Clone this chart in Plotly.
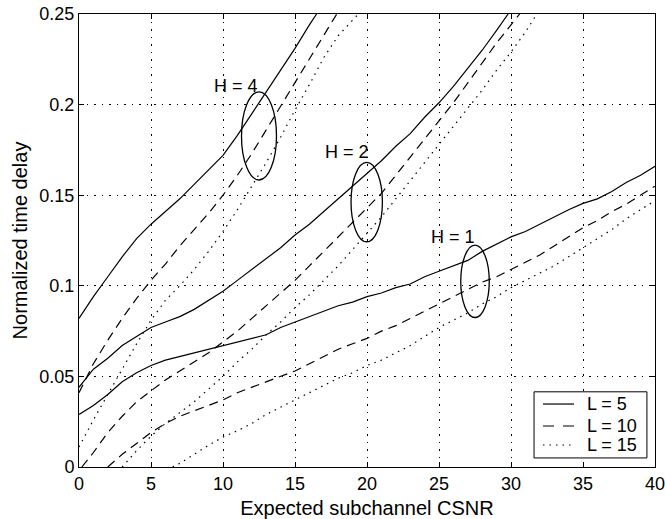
import plotly.graph_objects as go

# ---------------- data ----------------
# H = 4
h4_l5_x = [0, 1, 2, 3, 4, 5, 6, 7, 8, 9, 10, 11, 12, 13, 14, 15, 16, 16.5]
h4_l5_y = [0.082, 0.094, 0.105, 0.116, 0.126, 0.134, 0.141, 0.148, 0.156, 0.164, 0.172,
           0.183, 0.195, 0.207, 0.219, 0.231, 0.244, 0.250]
h4_l10_x = [0, 1, 2, 3, 4, 5, 6, 7, 8, 9, 10, 11, 12, 13, 14, 15, 16, 17, 17.9]
h4_l10_y = [0.041, 0.057, 0.070, 0.082, 0.093, 0.103, 0.112, 0.122, 0.131, 0.140, 0.150,
            0.161, 0.173, 0.186, 0.199, 0.212, 0.225, 0.238, 0.250]
h4_l15_x = [0, 1, 2, 3, 4, 5, 6, 7, 8, 9, 10, 11, 12, 13, 14, 15, 16, 17, 18, 19, 19.4]
h4_l15_y = [0.011, 0.026, 0.040, 0.054, 0.068, 0.081, 0.092, 0.100, 0.109, 0.119, 0.130,
            0.142, 0.155, 0.168, 0.182, 0.197, 0.211, 0.226, 0.238, 0.247, 0.250]

# H = 2
h2_l5_x = [0, 1, 2, 3, 4, 5, 6, 7, 8, 9, 10, 11, 12, 13, 14, 15, 16, 17, 18, 19, 20,
           21, 22, 23, 24, 25, 26, 27, 28, 29, 29.8]
h2_l5_y = [0.044, 0.054, 0.060, 0.067, 0.072, 0.077, 0.080, 0.083, 0.087, 0.092, 0.097,
           0.103, 0.109, 0.115, 0.121, 0.128, 0.134, 0.141, 0.148, 0.155, 0.162,
           0.169, 0.177, 0.184, 0.193, 0.201, 0.210, 0.220, 0.230, 0.241, 0.250]
h2_l10_x = [0.2, 1, 2, 3, 4, 5, 6, 7, 8, 9, 10, 11, 12, 13, 14, 15, 16, 17, 18, 19, 20,
            21, 22, 23, 24, 25, 26, 27, 28, 29, 30, 30.6]
h2_l10_y = [0.000, 0.008, 0.019, 0.028, 0.036, 0.042, 0.048, 0.053, 0.058, 0.063, 0.069,
            0.075, 0.082, 0.089, 0.096, 0.103, 0.111, 0.119, 0.127, 0.135, 0.143,
            0.151, 0.161, 0.171, 0.181, 0.191, 0.201, 0.212, 0.223, 0.234, 0.244, 0.250]
h2_l15_x = [3, 4, 5, 6, 7, 8, 9, 10, 11, 12, 13, 14, 15, 16, 17, 18, 19, 20,
            21, 22, 23, 24, 25, 26, 27, 28, 29, 30, 31, 31.8]
h2_l15_y = [0.000, 0.009, 0.017, 0.024, 0.030, 0.036, 0.043, 0.050, 0.058, 0.065, 0.073,
            0.080, 0.088, 0.095, 0.103, 0.111, 0.120, 0.129, 0.138, 0.148, 0.158,
            0.168, 0.178, 0.188, 0.198, 0.208, 0.219, 0.229, 0.240, 0.250]

# H = 1
h1_l5_x = list(range(0, 41))
h1_l5_y = [0.029, 0.034, 0.040, 0.047, 0.052, 0.056, 0.059, 0.061, 0.063, 0.065, 0.067,
           0.069, 0.071, 0.073, 0.077, 0.080, 0.083, 0.086, 0.089, 0.091, 0.094,
           0.096, 0.099, 0.101, 0.105, 0.108, 0.111, 0.114, 0.119, 0.123, 0.127,
           0.130, 0.134, 0.138, 0.142, 0.1455, 0.148, 0.152, 0.157, 0.161, 0.166]
h1_l10_x = [2] + list(range(3, 41))
h1_l10_y = [0.000, 0.007, 0.013, 0.019, 0.024, 0.028, 0.031, 0.034, 0.037,
            0.041, 0.044, 0.047, 0.050, 0.053, 0.057, 0.061, 0.065, 0.068, 0.071,
            0.075, 0.078, 0.082, 0.086, 0.090, 0.094, 0.098, 0.102, 0.105, 0.109,
            0.113, 0.117, 0.122, 0.127, 0.132, 0.136, 0.141, 0.145, 0.150, 0.155]
h1_l15_x = [6.5] + list(range(7, 41))
h1_l15_y = [0.000, 0.002, 0.007, 0.012, 0.0165, 0.020, 0.024, 0.029, 0.033, 0.037,
            0.041, 0.045, 0.049, 0.052, 0.056, 0.059, 0.063, 0.067, 0.072, 0.077,
            0.081, 0.085, 0.090, 0.094, 0.099, 0.103, 0.107, 0.111, 0.116, 0.121,
            0.126, 0.131, 0.137, 0.142, 0.147]

legend_labels = ["L = 5", "L = 10", "L = 15"]

# group annotations (labels and ellipses)
group_labels = ["H = 4", "H = 2", "H = 1"]
label_x = [10.9, 18.6, 26.0]
label_y = [0.210, 0.174, 0.127]
ellipse_cx = [12.5, 19.98, 27.5]
ellipse_cy = [0.1827, 0.1462, 0.1025]
ellipse_rx = [1.215, 1.09, 0.99]
ellipse_ry = [0.0243, 0.0219, 0.0200]

x_ticks = [0, 5, 10, 15, 20, 25, 30, 35, 40]
y_ticks = [0, 0.05, 0.1, 0.15, 0.2, 0.25]
y_tick_text = ["0", "0.05", "0.1", "0.15", "0.2", "0.25"]

# ---------------- figure ----------------
FONT = "Liberation Sans, Arial, Helvetica, sans-serif"
styles = {"L = 5": "solid", "L = 10": "9px,6px", "L = 15": "1.5px,5px"}
legend_styles = {"L = 5": "solid", "L = 10": "11px,9px", "L = 15": "1.5px,5px"}

curves = [
    ("L = 5", h4_l5_x, h4_l5_y), ("L = 10", h4_l10_x, h4_l10_y), ("L = 15", h4_l15_x, h4_l15_y),
    ("L = 5", h2_l5_x, h2_l5_y), ("L = 10", h2_l10_x, h2_l10_y), ("L = 15", h2_l15_x, h2_l15_y),
    ("L = 5", h1_l5_x, h1_l5_y), ("L = 10", h1_l10_x, h1_l10_y), ("L = 15", h1_l15_x, h1_l15_y),
]

fig = go.Figure()
for name, xs, ys in curves:
    fig.add_trace(go.Scatter(
        x=xs, y=ys, mode="lines", name=name, showlegend=False,
        line=dict(color="black", width=1.2, dash=styles[name]),
    ))

for cx, cy, rx, ry in zip(ellipse_cx, ellipse_cy, ellipse_rx, ellipse_ry):
    fig.add_shape(type="circle", xref="x", yref="y",
                  x0=cx - rx, x1=cx + rx, y0=cy - ry, y1=cy + ry,
                  line=dict(color="black", width=1.3))

for txt, lx, ly in zip(group_labels, label_x, label_y):
    fig.add_annotation(x=lx, y=ly, xref="x", yref="y", text=txt, showarrow=False,
                       font=dict(family=FONT, size=18, color="black"))

# legend box (MATLAB style), drawn in paper coordinates
LEG_X0, LEG_X1, LEG_Y0, LEG_Y1 = 0.790, 0.986, 0.020, 0.166
LEG_ROWS = [0.139, 0.0905, 0.0486]
LEG_LINE_X0, LEG_LINE_X1, LEG_TEXT_X = 0.8056, 0.8594, 0.8785
fig.add_shape(type="rect", xref="paper", yref="paper",
              x0=LEG_X0, x1=LEG_X1, y0=LEG_Y0, y1=LEG_Y1,
              line=dict(color="black", width=1), fillcolor="white", layer="above")
for lab, ry in zip(legend_labels, LEG_ROWS):
    fig.add_shape(type="line", xref="paper", yref="paper",
                  x0=LEG_LINE_X0, x1=LEG_LINE_X1, y0=ry, y1=ry, layer="above",
                  line=dict(color="black", width=1.2, dash=legend_styles[lab]))
    fig.add_annotation(x=LEG_TEXT_X, y=ry, xref="paper", yref="paper", text=lab,
                       showarrow=False, xanchor="left", yanchor="middle",
                       font=dict(family=FONT, size=18, color="black"))

axis_common = dict(
    showline=True, linecolor="black", linewidth=1, mirror="ticks",
    ticks="inside", ticklen=5, tickcolor="black", tickwidth=1,
    showgrid=True, gridcolor="black", gridwidth=1, griddash="1.5px,6px",
    zeroline=False, tickfont=dict(family=FONT, size=18, color="black"),
    ticklabeloverflow="allow",
)

fig.update_xaxes(range=[0, 40], tickvals=x_ticks, **axis_common,
                 title=dict(text="Expected subchannel CSNR",
                            font=dict(family=FONT, size=20, color="black"), standoff=8))
fig.update_yaxes(range=[0, 0.25], tickvals=y_ticks, ticktext=y_tick_text, **axis_common,
                 title=dict(text="Normalized time delay",
                            font=dict(family=FONT, size=20, color="black"), standoff=6))

fig.update_layout(
    width=665, height=519,
    margin=dict(l=79, r=10, t=14, b=52, autoexpand=False),
    paper_bgcolor="white", plot_bgcolor="white",
    font=dict(family=FONT, size=18, color="black"),
    showlegend=False,
)

fig.write_html("out.html", config={"displayModeBar": False},
               post_script="document.body.style.margin='0px';document.body.style.overflow='hidden';")
